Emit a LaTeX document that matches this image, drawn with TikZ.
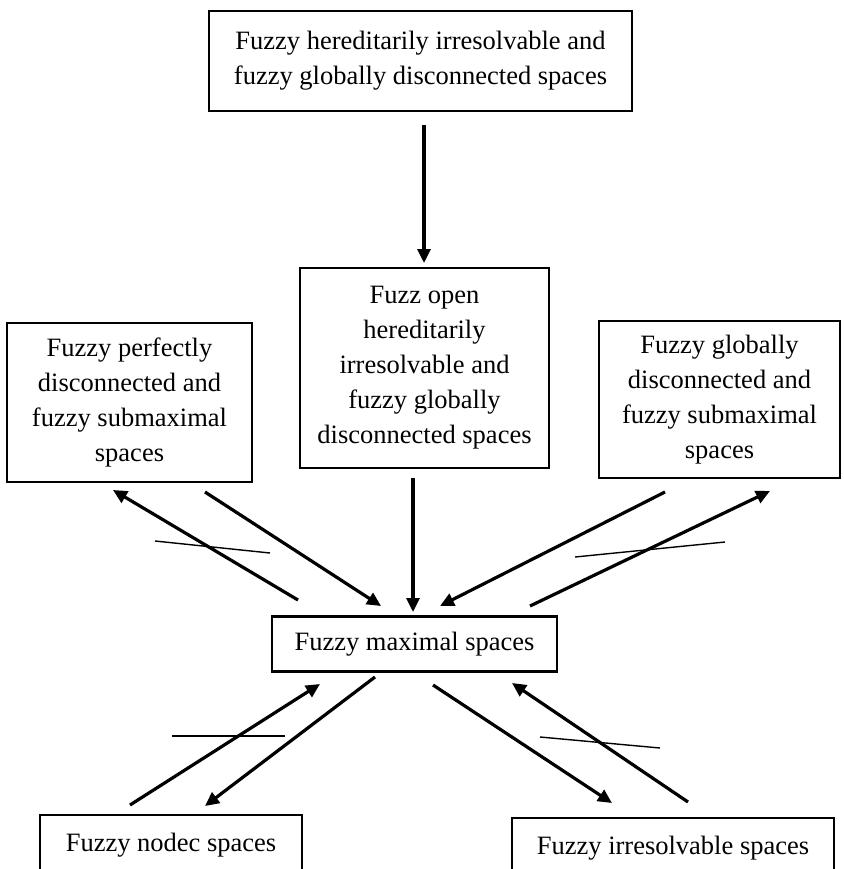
\documentclass[tikz,border=0pt]{standalone}
\usepackage{fontspec}
\setmainfont{Liberation Serif}
\usetikzlibrary{arrows.meta}
\begin{document}
\begin{tikzpicture}[x=1pt,y=-1pt,
  box/.style={draw,line width=2.2pt,align=center,inner sep=0pt,
    font=\fontsize{26.5}{35}\selectfont},
  arr/.style={line width=3.2pt,-{Triangle[length=14pt,width=13pt]}},
  crossline/.style={line width=1.4pt}]
\useasboundingbox (0,0) rectangle (843,869);
\clip (0,0) rectangle (843,869);
\fill[white] (0,0) rectangle (843,869);

% boxes
\node[box,minimum width=423pt,minimum height=100pt] (top) at (420.5,61)
  {Fuzzy hereditarily irresolvable and\\fuzzy globally disconnected spaces};
\node[box,minimum width=249pt,minimum height=200pt] (mid) at (424.5,368)
  {Fuzz open\\hereditarily\\irresolvable and\\fuzzy globally\\disconnected spaces};
\node[box,minimum width=245pt,minimum height=159pt] (lft) at (129.5,402.5)
  {Fuzzy perfectly\\disconnected and\\fuzzy submaximal\\spaces};
\node[box,minimum width=241pt,minimum height=157pt] (rgt) at (719.5,399.5)
  {Fuzzy globally\\disconnected and\\fuzzy submaximal\\spaces};
\node[box,minimum width=285pt,minimum height=55pt] (max) at (414.5,644)
  {Fuzzy maximal spaces};
\node[box,minimum width=262pt,minimum height=60pt] (bl) at (171,845)
  {Fuzzy nodec spaces};
\node[box,minimum width=322pt,minimum height=60pt] (br) at (673,848)
  {Fuzzy irresolvable spaces};

% arrow end points
\coordinate (t0) at (424,125);  \coordinate (t1) at (424,263);
\coordinate (m0) at (413,478);  \coordinate (m1) at (413,612);
\coordinate (l1s) at (298,600); \coordinate (l1e) at (113,490);
\coordinate (l2s) at (205,492); \coordinate (l2e) at (381,606);
\coordinate (r1s) at (665,492); \coordinate (r1e) at (440,606);
\coordinate (r2s) at (530,606); \coordinate (r2e) at (770,491);
\coordinate (b1s) at (130,805); \coordinate (b1e) at (320,684);
\coordinate (b2s) at (375,677); \coordinate (b2e) at (205,806);
\coordinate (c1s) at (433,685); \coordinate (c1e) at (612,803);
\coordinate (c2s) at (688,802); \coordinate (c2e) at (512,683);

% arrows
\draw[arr] (t0) -- (t1);
\draw[arr] (m0) -- (m1);
\draw[arr] (l1s) -- (l1e);
\draw[arr] (l2s) -- (l2e);
\draw[arr] (r1s) -- (r1e);
\draw[arr] (r2s) -- (r2e);
\draw[arr] (b1s) -- (b1e);
\draw[arr] (b2s) -- (b2e);
\draw[arr] (c1s) -- (c1e);
\draw[arr] (c2s) -- (c2e);

% negation strokes
\coordinate (n1a) at (155,541); \coordinate (n1b) at (270,553);
\coordinate (n2a) at (575,557); \coordinate (n2b) at (725,542);
\coordinate (n3a) at (172,736); \coordinate (n3b) at (285,736);
\coordinate (n4a) at (540,737); \coordinate (n4b) at (660,748);
\draw[crossline] (n1a) -- (n1b);
\draw[crossline] (n2a) -- (n2b);
\draw[crossline] (n3a) -- (n3b);
\draw[crossline] (n4a) -- (n4b);
\end{tikzpicture}
\end{document}
